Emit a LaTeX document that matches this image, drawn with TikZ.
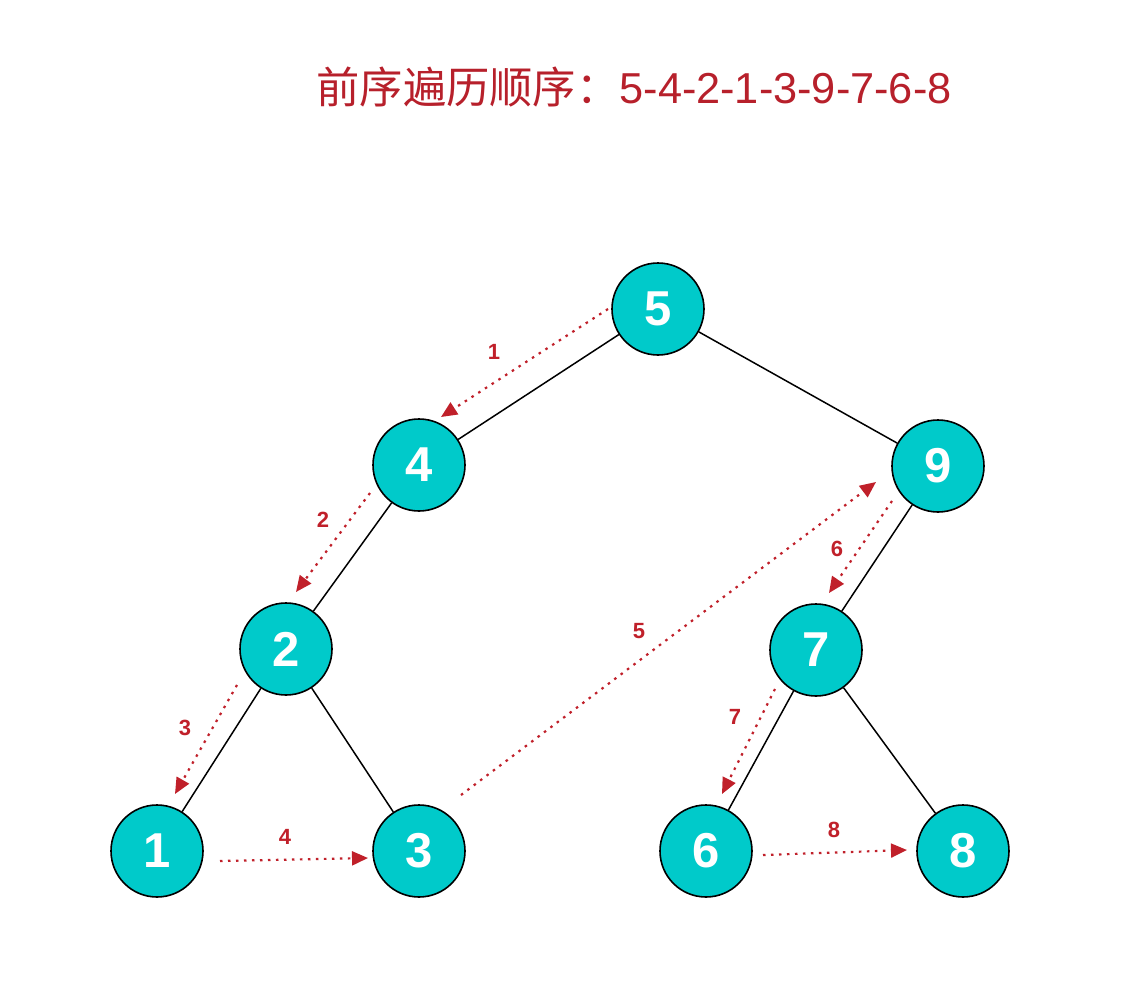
\documentclass[tikz,border=0pt]{standalone}
\usepackage{fontspec}
\setmainfont{Liberation Sans}
\newfontfamily\cjk{Noto Sans CJK SC}
\usetikzlibrary{arrows.meta}
\definecolor{teal1}{RGB}{0,202,202}
\definecolor{redt}{RGB}{183,32,43}
\definecolor{reda}{RGB}{192,32,42}
\tikzset{
  tnode/.style={circle, draw=black, line width=1.6pt, fill=teal1, minimum size=92pt, inner sep=0pt,
    text=white, font=\fontsize{49}{49}\selectfont\bfseries},
  tedge/.style={draw=black, line width=1.5pt},
  trav/.style={draw=reda, line width=2.2pt, dash pattern=on 2.5pt off 5.5pt,
    -{Triangle[length=16pt,width=14pt,fill=reda]}},
  tlab/.style={text=reda, font=\fontsize{22}{22}\selectfont\bfseries, inner sep=0pt}
}
\begin{document}
\begin{tikzpicture}[x=1pt,y=-1pt]
\useasboundingbox (0,0) rectangle (1146,1006);
\node[text=redt, font=\fontsize{43.3}{43.3}\selectfont, inner sep=0pt] (title) at (634,87) {{\cjk 前序遍历顺序：}5-4-2-1-3-9-7-6-8};
% nodes
\node[tnode] (n5) at (658,309) {5};
\node[tnode] (n4) at (419,465) {4};
\node[tnode] (n9) at (938,466) {9};
\node[tnode] (n2) at (286,649) {2};
\node[tnode] (n7) at (816,650) {7};
\node[tnode] (n1) at (157,851) {1};
\node[tnode] (n3) at (419,851) {3};
\node[tnode] (n6) at (706,851) {6};
\node[tnode] (n8) at (963,851) {8};
% tree edges
\draw[tedge] (n5) -- (n4);
\draw[tedge] (n5) -- (n9);
\draw[tedge] (n4) -- (n2);
\draw[tedge] (n2) -- (n1);
\draw[tedge] (n2) -- (n3);
\draw[tedge] (n9) -- (n7);
\draw[tedge] (n7) -- (n6);
\draw[tedge] (n7) -- (n8);
% traversal arrow end points
\coordinate (a1s) at (608,309); \coordinate (a1e) at (441,417);
\coordinate (a2s) at (370,493); \coordinate (a2e) at (296,592);
\coordinate (a3s) at (237,685); \coordinate (a3e) at (175,794);
\coordinate (a4s) at (220,861); \coordinate (a4e) at (368,858);
\coordinate (a5s) at (461,795); \coordinate (a5e) at (876,482);
\coordinate (a6s) at (892,501); \coordinate (a6e) at (829,593);
\coordinate (a7s) at (775,689); \coordinate (a7e) at (722,794);
\coordinate (a8s) at (763,855); \coordinate (a8e) at (907,850);
\draw[trav] (a1s) -- (a1e);
\draw[trav] (a2s) -- (a2e);
\draw[trav] (a3s) -- (a3e);
\draw[trav] (a4s) -- (a4e);
\draw[trav] (a5s) -- (a5e);
\draw[trav] (a6s) -- (a6e);
\draw[trav] (a7s) -- (a7e);
\draw[trav] (a8s) -- (a8e);
% labels
\node[tlab] (l1) at (494,352) {1};
\node[tlab] (l2) at (323,520) {2};
\node[tlab] (l3) at (185,728) {3};
\node[tlab] (l4) at (285,837) {4};
\node[tlab] (l5) at (639,631) {5};
\node[tlab] (l6) at (837,549) {6};
\node[tlab] (l7) at (735,717) {7};
\node[tlab] (l8) at (834,830) {8};
\end{tikzpicture}
\end{document}
